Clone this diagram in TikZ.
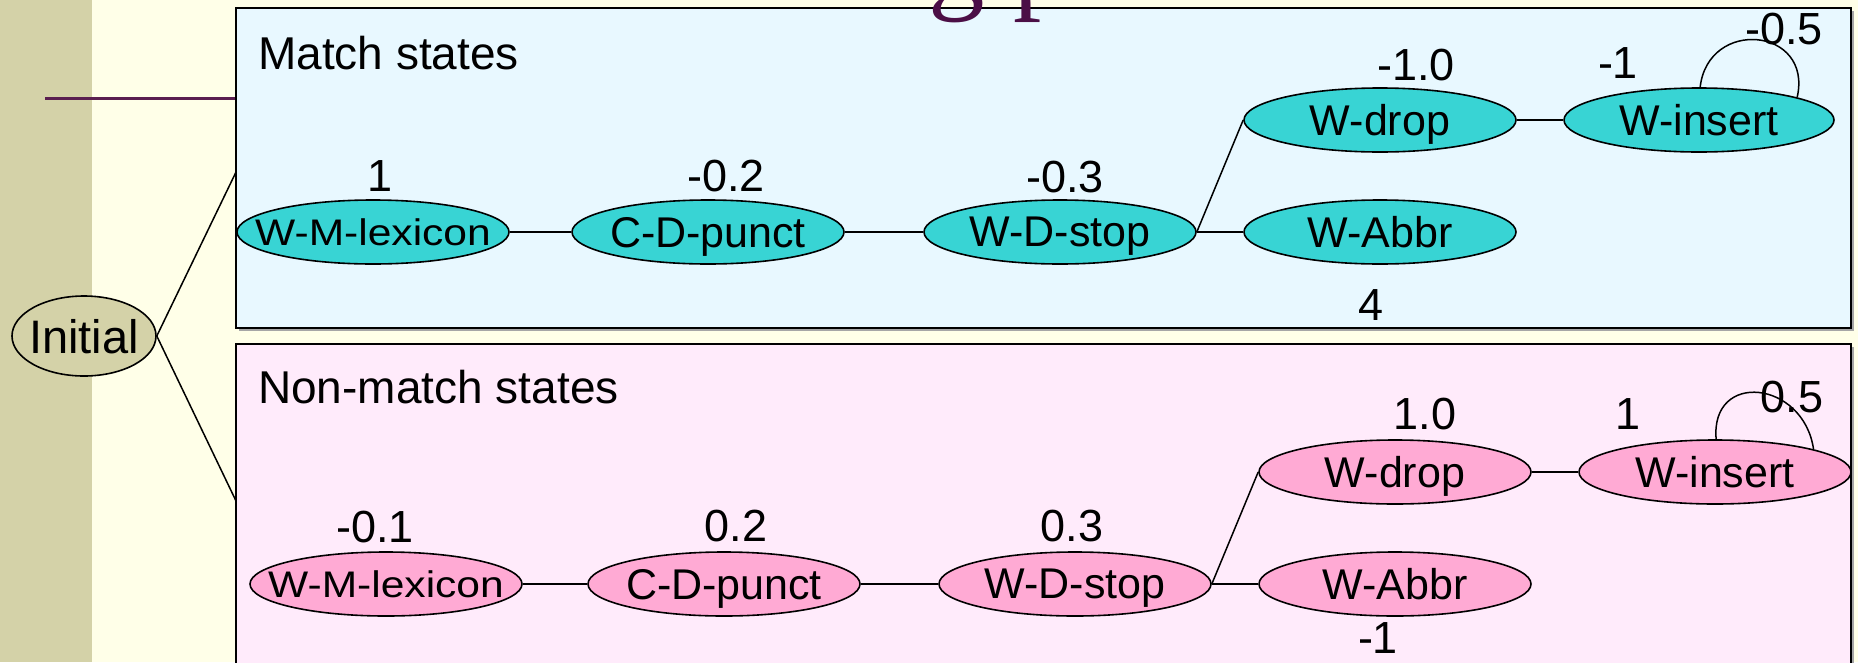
\documentclass[tikz,border=0pt]{standalone}
\usepackage{fontspec}
\setmainfont{Liberation Sans}
\newfontfamily\ttlfont{Liberation Serif}
\newfontfamily\widefnt[FakeStretch=1.15]{Liberation Sans}
\usetikzlibrary{shapes.geometric}
\definecolor{bgc}{HTML}{FFFFE8}
\definecolor{stripec}{HTML}{D4D2A8}
\definecolor{purpc}{HTML}{5A1F50}
\definecolor{ttlc}{HTML}{4B0F46}
\definecolor{mboxc}{HTML}{E8F8FF}
\definecolor{nboxc}{HTML}{FFEBFB}
\definecolor{cyanc}{HTML}{38D4D4}
\definecolor{pinkc}{HTML}{FFAAD4}
\begin{document}
\begin{tikzpicture}[x=1pt,y=-1pt,
  stbase/.style={ellipse, draw=black, line width=1.6pt, minimum width=272pt, minimum height=64pt,
     inner xsep=-40pt, inner ysep=0pt, text depth=0pt, font=\fontsize{43}{50}\selectfont},
  mst/.style={stbase, fill=cyanc},
  nst/.style={stbase, fill=pinkc},
  wide/.style={font=\widefnt\fontsize{37}{42}\selectfont},
  initst/.style={ellipse, draw=black, line width=1.6pt, fill=stripec, minimum width=144pt,
     minimum height=80pt, inner xsep=-20pt, inner ysep=0pt, text depth=0pt, font=\fontsize{47}{52}\selectfont},
  lbl/.style={inner sep=0pt, font=\fontsize{45}{50}\selectfont},
  sect/.style={inner sep=0pt, anchor=west, font=\fontsize{46}{52}\selectfont},
  conn/.style={draw=black, line width=1.5pt},
  boxst/.style={draw=black, line width=2.2pt}
]
\useasboundingbox (0,0) rectangle (1858,662);
\clip (0,0) rectangle (1858,662);
\fill[bgc] (0,0) rectangle (1858,662);
\fill[stripec] (0,0) rectangle (92,662);
\draw[purpc, line width=3pt] (45,98) -- (240,98);

\node[initst] (init) at (84,336) {Initial};
\coordinate (mtop) at (237,170);
\coordinate (nbot) at (237,503);
\draw[conn] (init.east) -- (mtop);
\draw[conn] (init.east) -- (nbot);

% boxes
\fill[gray!70] (239,11) rectangle (1854,331);
\fill[mboxc] (236,8) rectangle (1851,328);
\draw[boxst] (236,8) rectangle (1851,328);
\fill[gray!70] (239,347) rectangle (1854,690);
\fill[nboxc] (236,344) rectangle (1851,690);
\draw[boxst] (236,344) rectangle (1851,690);

\node[sect] (mlab) at (258,53) {Match states};
\node[sect] (nlab) at (258,387) {Non-match states};

% match states
\node[mst, wide] (m1) at (373,232) {W-M-lexicon};
\node[mst] (m2) at (708,232) {C-D-punct};
\node[mst] (m3) at (1060,232) {W-D-stop};
\node[mst] (m4) at (1380,232) {W-Abbr};
\node[mst] (m5) at (1380,120) {W-drop};
\node[mst, minimum width=270pt] (m6) at (1699,120) {W-insert};
\draw[conn] (m1.east) -- (m2.west);
\draw[conn] (m2.east) -- (m3.west);
\draw[conn] (m3.east) -- (m4.west);
\draw[conn] (m3.east) -- (m5.west);
\draw[conn] (m5.east) -- (m6.west);
\draw[conn] (m6.88) .. controls +(8,-70) and +(16,-70) .. (m6.13);

\node[lbl] (lm1) at (380,176) {1};
\node[lbl] (lm2) at (726,176) {-0.2};
\node[lbl] (lm3) at (1065,177) {-0.3};
\node[lbl] (lm5) at (1416,65) {-1.0};
\node[lbl] (lm6) at (1618,63) {-1};
\node[lbl] (lm7) at (1784,29) {-0.5};
\node[lbl] (lm4) at (1371,305) {4};

% non-match states
\node[nst, wide] (n1) at (386,584) {W-M-lexicon};
\node[nst] (n2) at (724,584) {C-D-punct};
\node[nst] (n3) at (1075,584) {W-D-stop};
\node[nst] (n4) at (1395,584) {W-Abbr};
\node[nst] (n5) at (1395,472) {W-drop};
\node[nst] (n6) at (1715,472) {W-insert};
\draw[conn] (n1.east) -- (n2.west);
\draw[conn] (n2.east) -- (n3.west);
\draw[conn] (n3.east) -- (n4.west);
\draw[conn] (n3.east) -- (n5.west);
\draw[conn] (n5.east) -- (n6.west);
\draw[conn] (n6.88) .. controls +(-6,-69) and +(-10,-69) .. (n6.13);

\node[lbl] (ln1) at (375,527) {-0.1};
\node[lbl] (ln2) at (736,526) {0.2};
\node[lbl] (ln3) at (1072,526) {0.3};
\node[lbl] (ln5) at (1425,414) {1.0};
\node[lbl] (ln6) at (1628,414) {1};
\node[lbl] (ln7) at (1792,397) {0.5};
\node[lbl] (ln4) at (1378,638) {-1};

% partially visible slide title
\node[anchor=base west, inner sep=0pt, text=ttlc, font=\ttlfont\fontsize{113}{120}\selectfont]
  (title) at (166,-1.5) {Learned matching parameters};
\end{tikzpicture}
\end{document}
